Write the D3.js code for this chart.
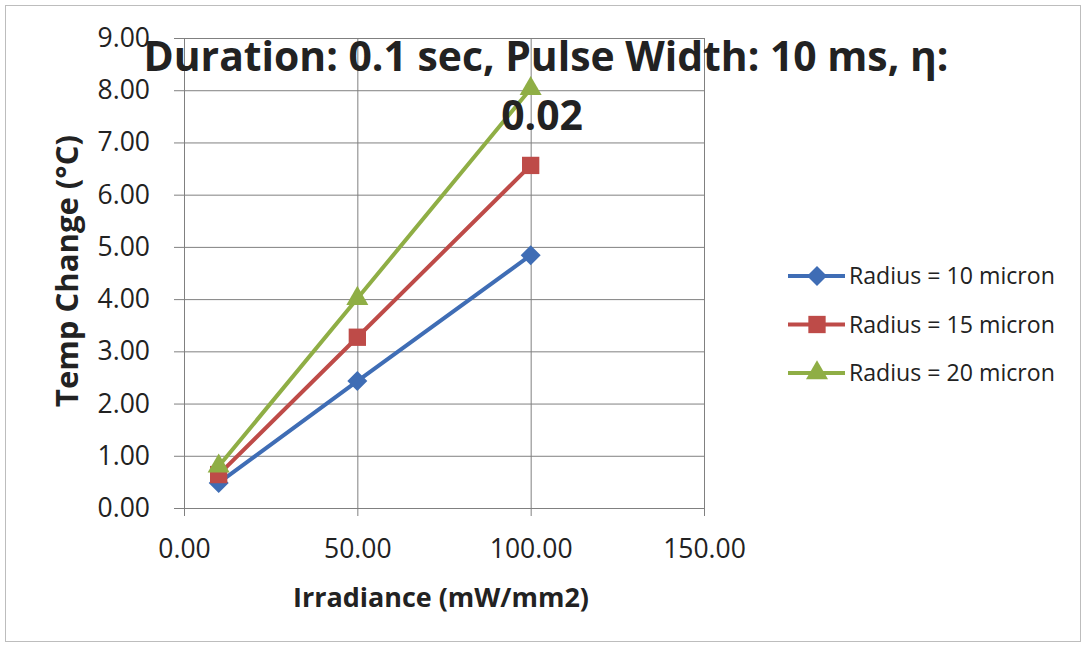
<!DOCTYPE html>
<html>
<head>
<meta charset="utf-8">
<script src="https://cdn.jsdelivr.net/npm/d3@7"></script>
<style>
  body { margin: 0; background: #fff; }
  svg { display: block; }
</style>
</head>
<body>
<div id="chart"></div>
<script>
// data
const irradiance = [10, 50, 100];
const seriesNames = ["Radius = 10 micron", "Radius = 15 micron", "Radius = 20 micron"];
const radius10 = [0.48, 2.43, 4.84];
const radius15 = [0.64, 3.27, 6.56];
const radius20 = [0.80, 4.01, 8.03];
const xTicks = [0, 50, 100, 150];
const yTicks = [0, 1, 2, 3, 4, 5, 6, 7, 8, 9];
const titleLines = ["Duration: 0.1 sec, Pulse Width: 10 ms, \u03b7:", "0.02"];

const colors = ["#3F6DB5", "#BE4B48", "#8FAE45"];
const markers = ["diamond", "square", "triangle"];
const fontFamily = "'Open Sans', 'DejaVu Sans', sans-serif";

const W = 1083, H = 645;
const margin = { top: 38, right: 379, bottom: 137, left: 184 },
  width = W - margin.left - margin.right,
  height = H - margin.top - margin.bottom;

const root = d3.select("#chart").append("svg")
  .attr("width", W)
  .attr("height", H)
  .style("font-family", fontFamily);

// outer chart border
root.append("rect")
  .attr("x", 5.5).attr("y", 5.5)
  .attr("width", 1075).attr("height", 636)
  .attr("fill", "#fff")
  .attr("stroke", "#bdbdbd");

const svg = root.append("g")
  .attr("transform", `translate(${margin.left},${margin.top})`);

const x = d3.scaleLinear().domain([0, 150]).range([0, width]);
const y = d3.scaleLinear().domain([0, 9]).range([height, 0]);

// shrink/grow a text node so it spans the wanted width
function fitWidth(sel, target) {
  const w = sel.node().getComputedTextLength();
  const fs = parseFloat(sel.attr("font-size"));
  sel.attr("font-size", fs * target / w);
}

// marker shapes (diamond = square turned 45deg, like Excel)
function markerPath(kind) {
  if (kind === "diamond") return d3.symbol().type(d3.symbolSquare).size(200)();
  if (kind === "square") return d3.symbol().type(d3.symbolSquare).size(300)();
  return d3.symbol().type(d3.symbolTriangle).size(210)();
}
function markerRotate(kind) {
  return kind === "diamond" ? " rotate(45)" : "";
}

// grid
svg.append("g")
  .attr("class", "grid-y")
  .call(d3.axisLeft(y).tickValues(yTicks).tickSize(-width).tickFormat(""))
  .call(g => g.select(".domain").remove())
  .selectAll(".tick line").attr("stroke", "#808080");

svg.append("g")
  .attr("class", "grid-x")
  .attr("transform", `translate(0,${height})`)
  .call(d3.axisBottom(x).tickValues(xTicks).tickSize(-height).tickFormat(""))
  .call(g => g.select(".domain").remove())
  .selectAll(".tick line").attr("stroke", "#808080");

// axes
let yAxis = svg.append("g")
  .call(d3.axisLeft(y).tickValues(yTicks).tickSize(10).tickPadding(24).tickFormat(d3.format(".2f")));
yAxis.select(".domain").attr("stroke", "#808080");
yAxis.selectAll(".tick line").attr("stroke", "#808080");
yAxis.selectAll("text")
  .attr("font-family", fontFamily)
  .attr("font-size", 26.5)
  .attr("fill", "#222");

let xAxis = svg.append("g")
  .attr("transform", `translate(0,${height})`)
  .call(d3.axisBottom(x).tickValues(xTicks).tickSize(8).tickPadding(23).tickFormat(d3.format(".2f")));
xAxis.select(".domain").attr("stroke", "#808080");
xAxis.selectAll(".tick line").attr("stroke", "#808080");
xAxis.selectAll("text")
  .attr("font-family", fontFamily)
  .attr("font-size", 26.5)
  .attr("fill", "#222");

// axis titles
svg.append("text")
  .attr("text-anchor", "middle")
  .attr("x", x(75) - 3)
  .attr("y", height + 99)
  .attr("font-weight", "bold")
  .attr("font-size", 22)
  .attr("fill", "#222")
  .text("Irradiance (mW/mm2)")
  .call(s => fitWidth(s, 296));

svg.append("text")
  .attr("text-anchor", "middle")
  .attr("transform", `translate(${-106},${y(4.5) - 2}) rotate(-90)`)
  .attr("font-weight", "bold")
  .attr("font-size", 26)
  .attr("fill", "#222")
  .text("Temp Change (\u00b0C)")
  .call(s => fitWidth(s, 272));

// series
const series = [radius10, radius15, radius20].map((vals, i) => ({
  name: seriesNames[i],
  color: colors[i],
  marker: markers[i],
  points: irradiance.map((v, j) => ({ x: v, y: vals[j] }))
}));

const line = d3.line().x(d => x(d.x)).y(d => y(d.y));

const seriesG = svg.selectAll(".series")
  .data(series)
  .join("g")
  .attr("class", "series");

seriesG.append("path")
  .attr("d", d => line(d.points))
  .attr("fill", "none")
  .attr("stroke", d => d.color)
  .attr("stroke-width", 4);

seriesG.each(function (s) {
  d3.select(this).selectAll("path.marker")
    .data(s.points)
    .join("path")
    .attr("class", "marker")
    .attr("transform", d => `translate(${x(d.x)},${y(d.y)})` + markerRotate(s.marker))
    .attr("d", markerPath(s.marker))
    .attr("fill", s.color);
});

// title
const title = root.append("text")
  .attr("text-anchor", "middle")
  .attr("font-weight", "bold")
  .attr("font-size", 38)
  .attr("fill", "#222");
title.append("tspan").attr("x", 546).attr("y", 71).text(titleLines[0]);
title.append("tspan").attr("x", 542).attr("y", 130).text(titleLines[1]);
{
  const w = title.select("tspan").node().getComputedTextLength();
  title.attr("font-size", 38 * 805 / w);
}

// legend
const legend = root.append("g")
  .attr("transform", "translate(788,276)");

const rows = legend.selectAll("g")
  .data(series)
  .join("g")
  .attr("transform", (d, i) => `translate(0,${i * 48.5})`);

rows.append("line")
  .attr("x1", 0).attr("x2", 57)
  .attr("stroke", d => d.color)
  .attr("stroke-width", 4);

rows.append("path")
  .attr("transform", d => "translate(29,0)" + markerRotate(d.marker))
  .attr("d", d => markerPath(d.marker))
  .attr("fill", d => d.color);

rows.append("text")
  .attr("x", 61)
  .attr("dy", "0.35em")
  .attr("font-size", 20)
  .attr("fill", "#222")
  .text(d => d.name);
legend.selectAll("text").each(function () { fitWidth(d3.select(this), 206); });
</script>
</body>
</html>
